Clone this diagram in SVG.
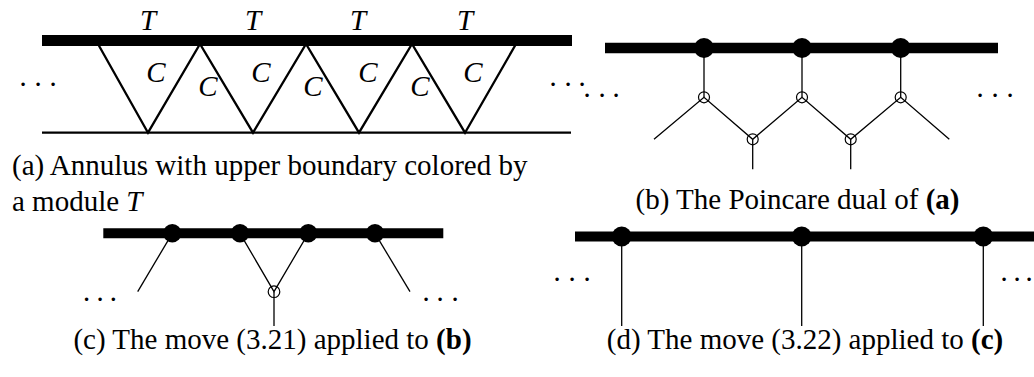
<svg xmlns="http://www.w3.org/2000/svg" width="1034" height="377" viewBox="0 0 1034 377">
<style>
text{font-family:"Liberation Serif","Times New Roman",serif;font-size:29px;fill:#000}
.it{font-style:italic}
.bd{font-weight:bold}
.dots{text-anchor:middle}
.mid{text-anchor:middle}
.bar{stroke:#000;fill:none}
.thin{stroke:#000;stroke-width:1.3;fill:none}
.med{stroke:#000;stroke-width:2.3;fill:none}
.hollow{stroke:#000;stroke-width:1.2;fill:none}
.dot{fill:#000}
</style>
<rect width="1034" height="377" fill="#fff"/>

<!-- Panel (a) -->
<g id="panel-a">
  <line class="bar" x1="42" y1="40.5" x2="572" y2="40.5" stroke-width="11"/>
  <line class="med" x1="42" y1="132.7" x2="571" y2="132.7" stroke-width="2.6"/>
  <polyline class="med" points="98,44 148,132.7 200,44 253,132.7 306,44 359,132.7 412,44 465,132.7 516,44"/>
  <text class="it mid" x="148" y="29.5">T</text>
  <text class="it mid" x="253" y="29.5">T</text>
  <text class="it mid" x="358" y="29.5">T</text>
  <text class="it mid" x="465" y="29.5">T</text>
  <text class="it mid" x="156" y="81.5">C</text>
  <text class="it mid" x="261" y="81.5">C</text>
  <text class="it mid" x="368" y="81.5">C</text>
  <text class="it mid" x="473" y="81.5">C</text>
  <text class="it mid" x="208" y="96">C</text>
  <text class="it mid" x="313" y="96">C</text>
  <text class="it mid" x="420" y="96">C</text>
  <text class="dots" x="23 38 53" y="94">···</text>
  <text class="dots" x="553 568 582" y="94">···</text>
  <text x="12" y="175">(a) Annulus with upper boundary colored by</text>
  <text x="12" y="211">a module <tspan class="it">T</tspan></text>
</g>

<!-- Panel (b) -->
<g id="panel-b">
  <line class="bar" x1="605" y1="48" x2="998" y2="48" stroke-width="10.5"/>
  <g id="connectors-b">
    <line class="thin" x1="704" y1="48" x2="704" y2="97.3"/>
    <line class="thin" x1="802" y1="48" x2="802" y2="97.3"/>
    <line class="thin" x1="900.7" y1="48" x2="900.7" y2="97.3"/>
    <polyline class="thin" points="654,139.3 704,97.3 752.7,139.3 802,97.3 850.7,139.3 900.7,97.3 949.3,139.3"/>
    <line class="thin" x1="752.7" y1="139.3" x2="752.7" y2="169.3"/>
    <line class="thin" x1="850.7" y1="139.3" x2="850.7" y2="169.3"/>
  </g>
  <g id="nodes-b">
    <circle class="dot" cx="704" cy="48" r="10"/>
    <circle class="dot" cx="802" cy="48" r="10"/>
    <circle class="dot" cx="900.7" cy="48" r="10"/>
    <circle class="hollow" cx="704" cy="97.3" r="5.5"/>
    <circle class="hollow" cx="802" cy="97.3" r="5.5"/>
    <circle class="hollow" cx="900.7" cy="97.3" r="5.5"/>
    <circle class="hollow" cx="752.7" cy="139.3" r="5.5"/>
    <circle class="hollow" cx="850.7" cy="139.3" r="5.5"/>
  </g>
  <text class="dots" x="587 602 616" y="105">···</text>
  <text class="dots" x="980 995 1010" y="105">···</text>
  <text class="mid" x="797.5" y="209">(b) The Poincare dual of <tspan class="bd">(a)</tspan></text>
</g>

<!-- Panel (c) -->
<g id="panel-c">
  <line class="bar" x1="103.3" y1="233.3" x2="443.3" y2="233.3" stroke-width="10"/>
  <g id="connectors-c">
    <line class="thin" x1="172.3" y1="233.3" x2="137.7" y2="291.7"/>
    <polyline class="thin" points="240,233.3 274,291.7 308.3,233.3"/>
    <line class="thin" x1="274" y1="291.7" x2="274" y2="326"/>
    <line class="thin" x1="375" y1="233.3" x2="410" y2="291.7"/>
  </g>
  <g id="nodes-c">
    <circle class="dot" cx="172.3" cy="233.3" r="9.2"/>
    <circle class="dot" cx="240" cy="233.3" r="9.2"/>
    <circle class="dot" cx="308.3" cy="233.3" r="9.2"/>
    <circle class="dot" cx="375" cy="233.3" r="9.2"/>
    <circle class="hollow" cx="274" cy="291.7" r="5.8"/>
  </g>
  <text class="dots" x="86.7 100 113.3" y="309">···</text>
  <text class="dots" x="426 440 455" y="309">···</text>
  <text class="mid" x="272.5" y="349">(c) The move (3.21) applied to <tspan class="bd">(b)</tspan></text>
</g>

<!-- Panel (d) -->
<g id="panel-d">
  <line class="bar" x1="575" y1="236.5" x2="1034" y2="236.5" stroke-width="10"/>
  <g id="connectors-d">
    <line class="thin" x1="621.7" y1="236.5" x2="621.7" y2="326"/>
    <line class="thin" x1="801.7" y1="236.5" x2="801.7" y2="326"/>
    <line class="thin" x1="983.3" y1="236.5" x2="983.3" y2="326"/>
  </g>
  <g id="nodes-d">
    <circle class="dot" cx="621.7" cy="236.5" r="10"/>
    <circle class="dot" cx="801.7" cy="236.5" r="10"/>
    <circle class="dot" cx="983.3" cy="236.5" r="10"/>
  </g>
  <text class="dots" x="557 572 587" y="289">···</text>
  <text class="dots" x="1004 1017 1029" y="289">···</text>
  <text class="mid" x="805" y="349">(d) The move (3.22) applied to <tspan class="bd">(c)</tspan></text>
</g>
</svg>
